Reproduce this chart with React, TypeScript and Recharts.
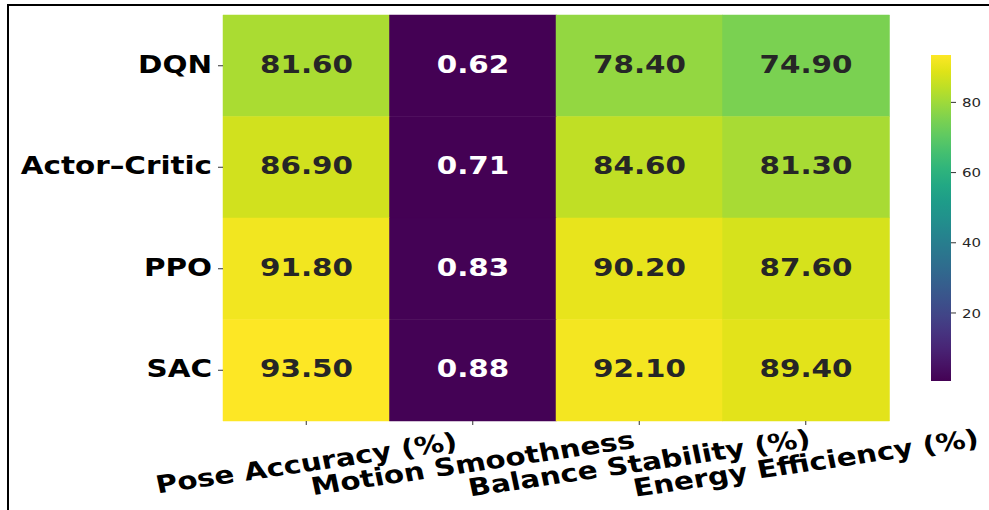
import React from 'react';
import { BarChart, Bar, XAxis, YAxis, Cell, LabelList } from 'recharts';

const models = ['DQN', 'Actor–Critic', 'PPO', 'SAC'];
const metrics = ['Pose Accuracy (%)', 'Motion Smoothness', 'Balance Stability (%)', 'Energy Efficiency (%)'];
const dqnValues = [81.6, 0.62, 78.4, 74.9];
const actorCriticValues = [86.9, 0.71, 84.6, 81.3];
const ppoValues = [91.8, 0.83, 90.2, 87.6];
const sacValues = [93.5, 0.88, 92.1, 89.4];
const colorbarTicks = [20, 40, 60, 80];

const valueRows = [dqnValues, actorCriticValues, ppoValues, sacValues];
const allVals = valueRows.flat();
const vmin = Math.min(...allVals);
const vmax = Math.max(...allVals);

const VIRIDIS = [
  '#440154', '#471365', '#482475', '#463480', '#414487', '#3b528b', '#355f8d',
  '#2f6c8e', '#2a788e', '#25848e', '#21918c', '#1e9c89', '#22a884', '#2fb47c',
  '#44bf70', '#5ec962', '#7ad151', '#9bd93c', '#bddf26', '#dfe318', '#fde725',
];

function hexToRgb(h: string) {
  return [parseInt(h.slice(1, 3), 16), parseInt(h.slice(3, 5), 16), parseInt(h.slice(5, 7), 16)];
}
function viridis(t: number) {
  const tt = Math.max(0, Math.min(1, t));
  const pos = tt * (VIRIDIS.length - 1);
  const i = Math.min(Math.floor(pos), VIRIDIS.length - 2);
  const f = pos - i;
  const a = hexToRgb(VIRIDIS[i]);
  const b = hexToRgb(VIRIDIS[i + 1]);
  const c = a.map((v, k) => Math.round(v + (b[k] - v) * f));
  return `rgb(${c[0]},${c[1]},${c[2]})`;
}
const norm = (v: number) => (v - vmin) / (vmax - vmin);

const heatData = metrics.map((m) => {
  const o: any = { metric: m };
  models.forEach((_, i) => {
    o['r' + i] = 1;
  });
  return o;
});

const colorbarData = [{ name: 'cb', range: [vmin, vmax] }];

const SX = 1.2;
const FONT = '"DejaVu Sans", sans-serif';

const makeLabel = (rowIdx: number) => (props: any) => {
  const { x, y, width, height, index } = props;
  const v = valueRows[rowIdx][index];
  const color = norm(v) < 0.5 ? '#ffffff' : '#262626';
  const cx = Number(x) + Number(width) / 2;
  const cy = Number(y) + Number(height) / 2;
  return (
    <text
      key={`lbl-${rowIdx}-${index}`}
      transform={`translate(${cx},${cy - 1.5}) scale(${SX},1)`}
      textAnchor="middle"
      dominantBaseline="central"
      fontFamily={FONT}
      fontWeight="bold"
      fontSize={24.5}
      fill={color}
    >
      {v.toFixed(2)}
    </text>
  );
};

const YTick = (props: any) => {
  const { x, y, payload } = props;
  const label = models[Math.floor(payload.value)];
  return (
    <text
      transform={`translate(${x - 4},${y - 1.5}) scale(${SX},1)`}
      textAnchor="end"
      dominantBaseline="central"
      fontFamily={FONT}
      fontWeight="bold"
      fontSize={24.5}
      fill="#000"
    >
      {label}
    </text>
  );
};

const XTick = (props: any) => {
  const { x, y, payload } = props;
  return (
    <text
      transform={`translate(${x},${y + 36}) scale(${SX},1) rotate(-10)`}
      textAnchor="middle"
      dominantBaseline="central"
      fontFamily={FONT}
      fontWeight="bold"
      fontSize={24.5}
      fill="#000"
    >
      {payload.value}
    </text>
  );
};

const CbTick = (props: any) => {
  const { x, y, payload } = props;
  return (
    <text
      transform={`translate(${x},${y}) scale(${SX},1)`}
      textAnchor="start"
      dominantBaseline="central"
      fontFamily={FONT}
      fontSize={12.5}
      fill="#262626"
    >
      {payload.value}
    </text>
  );
};

export default function App() {
  return (
    <div style={{ position: 'absolute', left: 0, top: 0, width: 989, height: 510, background: '#fff', overflow: 'hidden' }}>
      <div
        style={{
          position: 'absolute',
          left: 7,
          top: 4,
          width: 1000,
          height: 520,
          borderTop: '2px solid #000',
          borderLeft: '2px solid #000',
          boxSizing: 'border-box',
        }}
      />
      <div style={{ position: 'absolute', left: 0, top: 0 }}>
        <BarChart
          width={989}
          height={510}
          data={heatData}
          margin={{ top: 15, right: 100, bottom: 0, left: 0 }}
          barCategoryGap={0}
          barGap={0}
        >
          <XAxis
            dataKey="metric"
            type="category"
            height={89}
            axisLine={false}
            tickSize={4}
            tickLine={{ stroke: '#333', strokeWidth: 1 }}
            tick={<XTick />}
            interval={0}
          />
          <YAxis
            type="number"
            domain={[0, 4]}
            reversed
            ticks={[0.5, 1.5, 2.5, 3.5]}
            width={223}
            axisLine={false}
            tickSize={5}
            tickLine={{ stroke: '#333', strokeWidth: 1 }}
            tick={<YTick />}
            interval={0}
          />
          {models.map((m, i) => (
            <Bar key={m} dataKey={'r' + i} stackId="heat" isAnimationActive={false}>
              {metrics.map((_, j) => {
                const c = viridis(norm(valueRows[i][j]));
                return <Cell key={j} fill={c} stroke={c} strokeWidth={0.5} />;
              })}
              <LabelList dataKey={'r' + i} content={makeLabel(i)} />
            </Bar>
          ))}
        </BarChart>
      </div>
      <div style={{ position: 'absolute', left: 931, top: 0 }}>
        <BarChart
          width={70}
          height={510}
          data={colorbarData}
          margin={{ top: 55, right: 0, bottom: 129, left: 0 }}
          barCategoryGap={0}
        >
          <defs>
            <linearGradient id="viridisGrad" x1="0" y1="0" x2="0" y2="1">
              {VIRIDIS.map((c, k) => (
                <stop key={k} offset={1 - k / (VIRIDIS.length - 1)} stopColor={c} />
              )).reverse()}
            </linearGradient>
          </defs>
          <XAxis dataKey="name" type="category" hide />
          <YAxis
            type="number"
            orientation="right"
            domain={[vmin, vmax]}
            ticks={colorbarTicks}
            width={50}
            axisLine={false}
            tickSize={5}
            tickMargin={6}
            tickLine={{ stroke: '#333', strokeWidth: 1 }}
            tick={<CbTick />}
            allowDataOverflow
          />
          <Bar dataKey="range" fill="url(#viridisGrad)" isAnimationActive={false} />
        </BarChart>
      </div>
    </div>
  );
}
